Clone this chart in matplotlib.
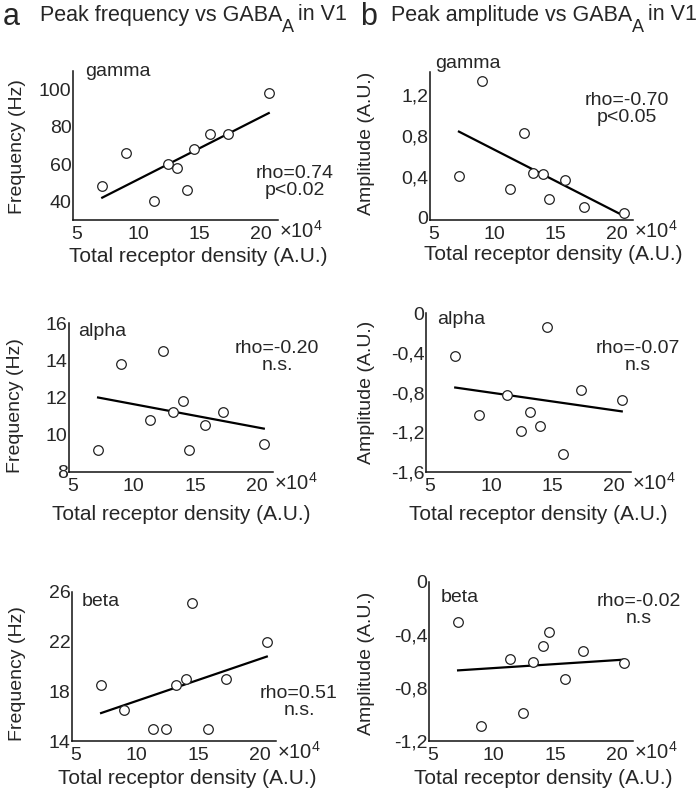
import matplotlib
matplotlib.use("Agg")
import matplotlib.pyplot as plt

plt.rcParams['font.family'] = ['Liberation Sans', 'DejaVu Sans']
plt.rcParams['mathtext.fontset'] = 'custom'
plt.rcParams['mathtext.rm'] = 'Liberation Sans'
plt.rcParams['mathtext.it'] = 'Liberation Sans'

# receptor density (x 10^4), same 10 areas in every panel
density = [7.1, 9.0, 11.3, 12.4, 13.2, 14.0, 14.5, 15.8, 17.3, 20.6]

freq_gamma = [48, 66, 40, 60, 58, 46, 68, 76, 76, 98]
freq_alpha = [9.2, 13.8, 10.8, 14.5, 11.2, 11.8, 9.2, 10.5, 11.2, 9.5]
freq_beta = [18.5, 16.5, 15.0, 15.0, 18.5, 19.0, 25.1, 15.0, 19.0, 22.0]
amp_gamma = [0.41, 1.33, 0.28, 0.83, 0.44, 0.43, 0.18, 0.37, 0.11, 0.05]
amp_alpha = [-0.43, -1.03, -0.83, -1.19, -1.0, -1.14, -0.14, -1.42, -0.77, -0.88]
amp_beta = [-0.30, -1.09, -0.58, -0.99, -0.60, -0.48, -0.38, -0.73, -0.52, -0.61]

# regression line end points
fit_x = [7.1, 20.6]
fit_freq_gamma = [42, 87.4]
fit_freq_alpha = [12.0, 10.33]
fit_freq_beta = [16.25, 20.8]
fit_amp_gamma = [0.84, 0.02]
fit_amp_alpha = [-0.75, -0.99]
fit_amp_beta = [-0.667, -0.586]

stats = ['rho=0.74\np<0.02', 'rho=-0.70\np<0.05',
         'rho=-0.20\nn.s.', 'rho=-0.07\nn.s',
         'rho=0.51\nn.s.', 'rho=-0.02\nn.s']
bands = ['gamma', 'gamma', 'alpha', 'alpha', 'beta', 'beta']

xticks = [5, 10, 15, 20]
yticks_fg = [40, 60, 80, 100]
yticks_ag = [0, 0.4, 0.8, 1.2]
ylabels_ag = ['0', '0,4', '0,8', '1,2']
yticks_fa = [8, 10, 12, 14, 16]
yticks_aa = [0, -0.4, -0.8, -1.2, -1.6]
ylabels_aa = ['0', '-0,4', '-0,8', '-1,2', '-1,6']
yticks_fb = [14, 18, 22, 26]
yticks_ab = [0, -0.4, -0.8, -1.2]
ylabels_ab = ['0', '-0,4', '-0,8', '-1,2']

W, H = 697, 799
fig = plt.figure(figsize=(W / 100, H / 100), dpi=100)
tc = '#262626'
fs = 14


def put(x, y, s, **kw):
    kw.setdefault('color', tc)
    kw.setdefault('fontsize', fs)
    return fig.text(x / W, 1 - y / H, s, **kw)


panels = [
    # l, r, t, b, y, fit, ylim, yticks, yticklabels, ylabel
    (73, 278, 71, 220, freq_gamma, fit_freq_gamma, (30, 110), yticks_fg, None, 'Frequency (Hz)'),
    (430, 633, 72, 220, amp_gamma, fit_amp_gamma, (-0.02, 1.42), yticks_ag, ylabels_ag, 'Amplitude (A.U.)'),
    (69, 273, 323, 472, freq_alpha, fit_freq_alpha, (8, 16), yticks_fa, None, 'Frequency (Hz)'),
    (426, 631, 313, 472, amp_alpha, fit_amp_alpha, (-1.6, 0), yticks_aa, ylabels_aa, 'Amplitude (A.U.)'),
    (72, 276, 592, 741, freq_beta, fit_freq_beta, (14, 26), yticks_fb, None, 'Frequency (Hz)'),
    (429, 633, 582, 741, amp_beta, fit_amp_beta, (-1.2, 0), yticks_ab, ylabels_ab, 'Amplitude (A.U.)'),
]

# text positions in pixels: band label, stats, ylabel, xlabel
band_pos = [(85, 72), (435, 64), (78, 331), (437, 320), (82, 602), (441, 597)]
stat_pos = [(295, 182), (627, 109), (277, 357), (638, 357), (299, 702), (639, 610)]
ylab_pos = [(18, 147), (367, 143), (15, 406), (367, 392), (18, 674), (367, 663)]
xlab_pos = [(198, 257), (553, 255), (181, 515), (538, 515), (187, 778), (543, 778)]

for i, (l, r, t, b, y, fit, ylim, yt, ytl, ylab) in enumerate(panels):
    ax = fig.add_axes([l / W, 1 - b / H, (r - l) / W, (b - t) / H])
    ax.patch.set_alpha(0)
    ax.plot(fit_x, fit, color='black', lw=1.6, zorder=2)
    ax.scatter(density, y, s=48, facecolors='white', edgecolors='#222222',
               linewidths=0.9, zorder=3)
    ax.set_xlim(4.73, 21.35)
    ax.set_ylim(*ylim)
    ax.set_xticks(xticks)
    ax.set_yticks(yt)
    if ytl is not None:
        ax.set_yticklabels(ytl)
    for s in ['top', 'right']:
        ax.spines[s].set_visible(False)
    for s in ['left', 'bottom']:
        ax.spines[s].set_linewidth(1.1)
        ax.spines[s].set_color('#111111')
    ax.tick_params(length=0, labelsize=fs, labelcolor=tc)
    ax.tick_params(axis='y', pad=1)
    ax.tick_params(axis='x', pad=4)
    put(r + 1, b + 11, '×10$^{4}$', ha='left', va='center', fontsize=14.5)
    put(*band_pos[i], bands[i], ha='left', va='center')
    put(*stat_pos[i], stats[i], ha='center', va='center', linespacing=1.0)
    put(*ylab_pos[i], ylab, ha='center', va='center', rotation=90)
    put(*xlab_pos[i], 'Total receptor density (A.U.)', ha='center', va='center', fontsize=15)

# panel titles with a full size, lowered subscript A
renderer = fig.canvas.get_renderer()
for letter, lx, tx, title in [('a', 3, 40, 'Peak frequency vs GABA'),
                              ('b', 360, 391, 'Peak amplitude vs GABA')]:
    put(lx, 17, letter, fontsize=22, ha='left', va='center')
    t1 = put(tx, 15, title, fontsize=15.5, ha='left', va='center')
    x1 = t1.get_window_extent(renderer).x1
    t2 = fig.text(x1 / W, 1 - 27 / H, 'A', fontsize=13, color=tc, ha='left', va='center')
    x2 = t2.get_window_extent(renderer).x1
    fig.text((x2 + 4) / W, 1 - 15 / H, 'in V1', fontsize=15.5, color=tc, ha='left', va='center')

fig.savefig('out.png', dpi=100)
